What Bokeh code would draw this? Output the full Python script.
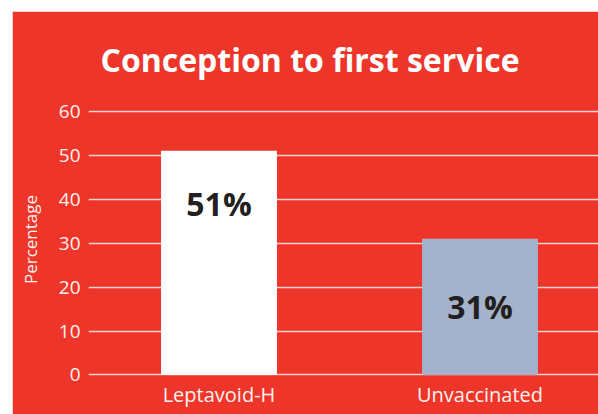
import numpy as np
from bokeh.plotting import figure
from bokeh.models import Range1d, FixedTicker, ColumnDataSource, Spacer
from bokeh.layouts import column, row
from bokeh.core.properties import value
from bokeh.embed import file_html
from bokeh.resources import INLINE

# ---- data ----
categories = ["Leptavoid-H", "Unvaccinated"]
percentages = [51, 31]
bar_labels = ["51%", "31%"]
y_ticks = [0, 10, 20, 30, 40, 50, 60]

RED = "#ee3529"
FONT = "Open Sans"

xs = np.arange(len(categories)) + 0.5
label_y = [39.1, 15.5]

src = ColumnDataSource(dict(x=xs, top=percentages, label=bar_labels, ly=label_y,
                            color=["#ffffff", "#a4b2cb"]))

p = figure(width=586, height=403, output_backend="svg", toolbar_location=None,
           x_range=Range1d(0, 1.954), y_range=Range1d(-0.35, 62),
           min_border_left=76, min_border_right=0, min_border_top=91, min_border_bottom=38,
           background_fill_color=RED, border_fill_color=RED,
           outline_line_color=RED, outline_line_width=2)

p.vbar(x="x", top="top", width=0.444, bottom=0, color="color", line_color=None, source=src)
p.text(x="x", y="ly", text="label", source=src, text_align="center", text_baseline="middle",
       text_font=value(FONT), text_font_style="bold", text_font_size="32px", text_color="#231f20")

# title
p.title.text = "Conception to first service"
p.title.text_font = FONT
p.title.text_font_style = "bold"
p.title.text_font_size = "32px"
p.title.text_color = "white"
p.title.align = "left"
p.title.offset = 12
p.title.standoff = 44

# x axis
p.xaxis.ticker = FixedTicker(ticks=list(xs))
p.xaxis.major_label_overrides = {float(x): c for x, c in zip(xs, categories)}
p.xaxis.axis_line_color = None
p.xaxis.major_tick_line_color = None
p.xaxis.minor_tick_line_color = None
p.xaxis.major_tick_out = 0
p.xaxis.major_label_text_font = FONT
p.xaxis.major_label_text_font_size = "20px"
p.xaxis.major_label_text_color = "#fff2f0"
p.xaxis.major_label_standoff = 4

# y axis
p.yaxis.ticker = FixedTicker(ticks=y_ticks)
p.yaxis.axis_line_color = None
p.yaxis.major_tick_line_color = None
p.yaxis.minor_tick_line_color = None
p.yaxis.major_tick_out = 0
p.yaxis.major_label_text_font = FONT
p.yaxis.major_label_text_font_size = "19px"
p.yaxis.major_label_text_color = "#fff2f0"
p.yaxis.major_label_standoff = 8
p.yaxis.axis_label = "Percentage"
p.yaxis.axis_label_text_font = FONT
p.yaxis.axis_label_text_font_size = "17px"
p.yaxis.axis_label_text_font_style = "normal"
p.yaxis.axis_label_text_color = "#fff2f0"
p.yaxis.axis_label_standoff = 14

p.xgrid.grid_line_color = None
p.ygrid.ticker = FixedTicker(ticks=y_ticks)
p.ygrid.grid_line_color = "#fbd3cd"
p.ygrid.grid_line_width = 1.5
p.ygrid.level = "underlay"

layout = column(Spacer(height=11), row(Spacer(width=12), p))
open("out.html", "w").write(file_html(layout, INLINE))
